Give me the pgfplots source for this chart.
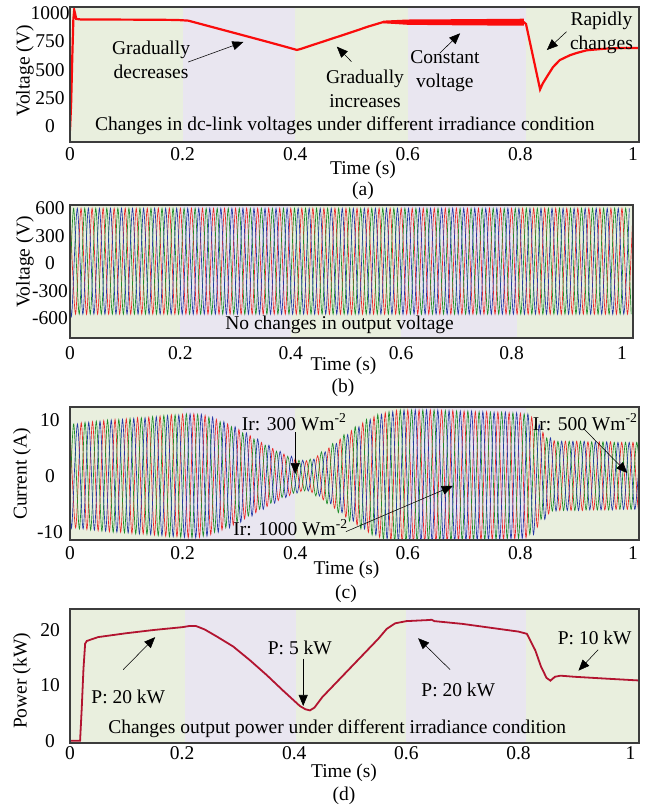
\documentclass[border=0pt]{standalone}
\usepackage{fontspec}
\setmainfont{Liberation Serif}
\usepackage{pgfplots}
\pgfplotsset{compat=1.18}
\usetikzlibrary{arrows.meta}
\definecolor{bggreen}{RGB}{233,239,222}
\definecolor{bgpurple}{RGB}{233,230,240}
\definecolor{vred}{RGB}{250,12,12}
\definecolor{pred}{RGB}{178,20,48}
\definecolor{wred}{RGB}{232,40,40}
\definecolor{wgreen}{RGB}{30,140,40}
\definecolor{wblue}{RGB}{35,55,165}
\definecolor{framec}{RGB}{60,60,60}
\newcommand\fs{\fontsize{19.5bp}{24bp}\selectfont}
\pgfplotsset{panel/.style={scale only axis, anchor=north west,
  axis line style={draw=framec,line width=1.1bp},
  major tick length=0pt, minor tick length=0pt, no markers,
  xmin=0, xtick={0,0.2,0.4,0.6,0.8,1}, xticklabels={0,0.2,0.4,0.6,0.8,1},
  ticklabel style={font=\fs},
  yticklabel style={anchor=center, xshift=-20bp},
  axis on top, /pgf/number format/assume math mode=true}}
\tikzset{arr/.style={draw=black, line width=0.55bp, -{Triangle[length=11bp,width=9bp]}},
  ann/.style={font=\fs, inner sep=0pt, align=center}}
\begin{document}
\begin{tikzpicture}
\useasboundingbox (0,0) rectangle (648bp,-806bp);
% ---------------- (a)
\begin{axis}[panel, at={(70bp,-7bp)}, width=569bp, height=135bp,
  xmax=1.0107, ymin=-142, ymax=1056,
  ytick={0,250,500,750,1000}, yticklabels={0,250,500,750,1000},
  xticklabel style={anchor=center, yshift=-12.5bp}]
\fill[bggreen] (axis cs:0,-142) rectangle (axis cs:0.2,1056);
\fill[bgpurple] (axis cs:0.2,-142) rectangle (axis cs:0.4,1056);
\fill[bggreen] (axis cs:0.4,-142) rectangle (axis cs:0.6,1056);
\fill[bgpurple] (axis cs:0.6,-142) rectangle (axis cs:0.81,1056);
\fill[bggreen] (axis cs:0.81,-142) rectangle (axis cs:1.03,1056);
\addplot[vred, fill=vred, draw=none] coordinates {(0.556,935)(0.6,945)(0.7,948)(0.806,952)(0.806,890)(0.7,893)(0.6,898)(0.556,912)} -- cycle;
\addplot[vred, line width=2.2bp] coordinates {(0,-40)(0.002,200)(0.004,600)(0.006,950)(0.0075,1030)(0.009,1000)(0.011,950)(0.02,945)(0.05,945)(0.1,944)(0.15,943)(0.19,941)(0.21,935)(0.3,815)(0.35,748)(0.38,707)(0.403,675)(0.41,684)(0.45,750)(0.5,832)(0.53,883)(0.556,922)(0.57,922)(0.6,922)(0.7,922)(0.806,922)(0.81,905)(0.835,325)(0.84,380)(0.85,460)(0.858,523)(0.87,585)(0.888,628)(0.9,648)(0.918,672)(0.95,686)(0.977,692)(1.02,693)};
\node[ann] at (axis cs:0.144,586) {Gradually\\decreases};
\node[ann] at (axis cs:0.524,333) {Gradually\\increases};
\node[ann] at (axis cs:0.666,484) {Constant\\voltage};
\node[ann] at (axis cs:0.944,830) {Rapidly\\changes};
\node[ann, anchor=west] at (axis cs:0.0444,0) {Changes in dc-link voltages under different irradiance condition};
\draw[arr] (axis cs:0.21,568) -- (axis cs:0.308,746);
\draw[arr] (axis cs:0.5,571) -- (axis cs:0.474,704);
\draw[arr] (axis cs:0.657,647) -- (axis cs:0.693,823);
\draw[arr] (axis cs:0.882,837) -- (axis cs:0.847,674);
\end{axis}
% ---------------- (b)
\begin{axis}[panel, at={(70bp,-205bp)}, width=563bp, height=133bp,
  xmax=1.02, ymin=-815, ymax=636,
  ytick={-600,-300,0,300,600}, yticklabels={-600,-300,0,300,600},
  xticklabel style={anchor=center, yshift=-15bp}]
\fill[bggreen] (axis cs:0,-815) rectangle (axis cs:0.2,636);
\fill[bgpurple] (axis cs:0.2,-815) rectangle (axis cs:0.4,636);
\fill[bggreen] (axis cs:0.4,-815) rectangle (axis cs:0.6,636);
\fill[bgpurple] (axis cs:0.6,-815) rectangle (axis cs:0.81,636);
\fill[bggreen] (axis cs:0.81,-815) rectangle (axis cs:1.03,636);
\addplot[wred, line width=0.65bp, smooth] coordinates {
(0,600)(0.01,-555)(0.02,600)(0.03,-555)(0.04,600)(0.05,-555)(0.06,600)(0.07,-555)(0.08,600)(0.09,-555)
(0.10,600)(0.11,-555)(0.12,600)(0.13,-555)(0.14,600)(0.15,-555)(0.16,600)(0.17,-555)(0.18,600)(0.19,-555)
(0.20,600)(0.21,-555)(0.22,600)(0.23,-555)(0.24,600)(0.25,-555)(0.26,600)(0.27,-555)(0.28,600)(0.29,-555)
(0.30,600)(0.31,-555)(0.32,600)(0.33,-555)(0.34,600)(0.35,-555)(0.36,600)(0.37,-555)(0.38,600)(0.39,-555)
(0.40,600)(0.41,-555)(0.42,600)(0.43,-555)(0.44,600)(0.45,-555)(0.46,600)(0.47,-555)(0.48,600)(0.49,-555)
(0.50,600)(0.51,-555)(0.52,600)(0.53,-555)(0.54,600)(0.55,-555)(0.56,600)(0.57,-555)(0.58,600)(0.59,-555)
(0.60,600)(0.61,-555)(0.62,600)(0.63,-555)(0.64,600)(0.65,-555)(0.66,600)(0.67,-555)(0.68,600)(0.69,-555)
(0.70,600)(0.71,-555)(0.72,600)(0.73,-555)(0.74,600)(0.75,-555)(0.76,600)(0.77,-555)(0.78,600)(0.79,-555)
(0.80,600)(0.81,-555)(0.82,600)(0.83,-555)(0.84,600)(0.85,-555)(0.86,600)(0.87,-555)(0.88,600)(0.89,-555)
(0.90,600)(0.91,-555)(0.92,600)(0.93,-555)(0.94,600)(0.95,-555)(0.96,600)(0.97,-555)(0.98,600)(0.99,-555)
(1.00,600)(1.01,-555)(1.02,600)};
\addplot[wgreen, line width=0.65bp, smooth] coordinates {(0,-280)
(0.0067,600)(0.0167,-555)(0.0267,600)(0.0367,-555)(0.0467,600)(0.0567,-555)(0.0667,600)(0.0767,-555)(0.0867,600)(0.0967,-555)
(0.1067,600)(0.1167,-555)(0.1267,600)(0.1367,-555)(0.1467,600)(0.1567,-555)(0.1667,600)(0.1767,-555)(0.1867,600)(0.1967,-555)
(0.2067,600)(0.2167,-555)(0.2267,600)(0.2367,-555)(0.2467,600)(0.2567,-555)(0.2667,600)(0.2767,-555)(0.2867,600)(0.2967,-555)
(0.3067,600)(0.3167,-555)(0.3267,600)(0.3367,-555)(0.3467,600)(0.3567,-555)(0.3667,600)(0.3767,-555)(0.3867,600)(0.3967,-555)
(0.4067,600)(0.4167,-555)(0.4267,600)(0.4367,-555)(0.4467,600)(0.4567,-555)(0.4667,600)(0.4767,-555)(0.4867,600)(0.4967,-555)
(0.5067,600)(0.5167,-555)(0.5267,600)(0.5367,-555)(0.5467,600)(0.5567,-555)(0.5667,600)(0.5767,-555)(0.5867,600)(0.5967,-555)
(0.6067,600)(0.6167,-555)(0.6267,600)(0.6367,-555)(0.6467,600)(0.6567,-555)(0.6667,600)(0.6767,-555)(0.6867,600)(0.6967,-555)
(0.7067,600)(0.7167,-555)(0.7267,600)(0.7367,-555)(0.7467,600)(0.7567,-555)(0.7667,600)(0.7767,-555)(0.7867,600)(0.7967,-555)
(0.8067,600)(0.8167,-555)(0.8267,600)(0.8367,-555)(0.8467,600)(0.8567,-555)(0.8667,600)(0.8767,-555)(0.8867,600)(0.8967,-555)
(0.9067,600)(0.9167,-555)(0.9267,600)(0.9367,-555)(0.9467,600)(0.9567,-555)(0.9667,600)(0.9767,-555)(0.9867,600)(0.9967,-555)
(1.0067,600)(1.0167,-555)};
\addplot[wblue, line width=0.65bp, smooth] coordinates {(0,-280)
(0.0033,-555)(0.0133,600)(0.0233,-555)(0.0333,600)(0.0433,-555)(0.0533,600)(0.0633,-555)(0.0733,600)(0.0833,-555)(0.0933,600)
(0.1033,-555)(0.1133,600)(0.1233,-555)(0.1333,600)(0.1433,-555)(0.1533,600)(0.1633,-555)(0.1733,600)(0.1833,-555)(0.1933,600)
(0.2033,-555)(0.2133,600)(0.2233,-555)(0.2333,600)(0.2433,-555)(0.2533,600)(0.2633,-555)(0.2733,600)(0.2833,-555)(0.2933,600)
(0.3033,-555)(0.3133,600)(0.3233,-555)(0.3333,600)(0.3433,-555)(0.3533,600)(0.3633,-555)(0.3733,600)(0.3833,-555)(0.3933,600)
(0.4033,-555)(0.4133,600)(0.4233,-555)(0.4333,600)(0.4433,-555)(0.4533,600)(0.4633,-555)(0.4733,600)(0.4833,-555)(0.4933,600)
(0.5033,-555)(0.5133,600)(0.5233,-555)(0.5333,600)(0.5433,-555)(0.5533,600)(0.5633,-555)(0.5733,600)(0.5833,-555)(0.5933,600)
(0.6033,-555)(0.6133,600)(0.6233,-555)(0.6333,600)(0.6433,-555)(0.6533,600)(0.6633,-555)(0.6733,600)(0.6833,-555)(0.6933,600)
(0.7033,-555)(0.7133,600)(0.7233,-555)(0.7333,600)(0.7433,-555)(0.7533,600)(0.7633,-555)(0.7733,600)(0.7833,-555)(0.7933,600)
(0.8033,-555)(0.8133,600)(0.8233,-555)(0.8333,600)(0.8433,-555)(0.8533,600)(0.8633,-555)(0.8733,600)(0.8833,-555)(0.8933,600)
(0.9033,-555)(0.9133,600)(0.9233,-555)(0.9333,600)(0.9433,-555)(0.9533,600)(0.9633,-555)(0.9733,600)(0.9833,-555)(0.9933,600)
(1.0033,-555)(1.0133,600)};
\node[ann, anchor=west] at (axis cs:0.281,-672) {No changes in output voltage};
\end{axis}
% ---------------- (c)
\begin{axis}[panel, at={(70bp,-407bp)}, width=569bp, height=133bp,
  xmax=1.0107, ymin=-11.49, ymax=12.33,
  ytick={-10,0,10}, yticklabels={-10,0,10},
  xticklabel style={anchor=center, yshift=-13bp}]
\fill[bggreen] (axis cs:0,-12) rectangle (axis cs:0.2,13);
\fill[bgpurple] (axis cs:0.2,-12) rectangle (axis cs:0.4,13);
\fill[bggreen] (axis cs:0.4,-12) rectangle (axis cs:0.6,13);
\fill[bgpurple] (axis cs:0.6,-12) rectangle (axis cs:0.81,13);
\fill[bggreen] (axis cs:0.81,-12) rectangle (axis cs:1.03,13);
\addplot[wred, line width=0.65bp, smooth] coordinates {
(0.00,9.0)(0.01,-9.3)(0.02,9.5)(0.03,-9.6)(0.04,9.7)(0.05,-9.8)(0.06,9.9)(0.07,-10.0)(0.08,10.1)(0.09,-10.1)
(0.10,10.2)(0.11,-10.3)(0.12,10.4)(0.13,-10.4)(0.14,10.5)(0.15,-10.6)(0.16,10.7)(0.17,-10.8)(0.18,10.9)(0.19,-10.9)
(0.20,11.0)(0.21,-11.1)(0.22,11.1)(0.23,-11.0)(0.24,10.8)(0.25,-10.5)(0.26,10.1)(0.27,-9.7)(0.28,9.3)(0.29,-8.8)
(0.30,8.3)(0.31,-7.7)(0.32,7.2)(0.33,-6.6)(0.34,6.0)(0.35,-5.5)(0.36,4.9)(0.37,-4.4)(0.38,3.9)(0.39,-3.5)
(0.40,3.1)(0.41,-2.8)(0.42,2.7)(0.43,-3.0)(0.44,3.6)(0.45,-4.3)(0.46,5.0)(0.47,-5.8)(0.48,6.6)(0.49,-7.4)
(0.50,8.1)(0.51,-8.8)(0.52,9.5)(0.53,-10.1)(0.54,10.6)(0.55,-11.0)(0.56,11.3)(0.57,-11.5)(0.58,11.7)(0.59,-11.8)
(0.60,11.8)(0.61,-11.8)(0.62,11.8)(0.63,-11.8)(0.64,11.8)(0.65,-11.8)(0.66,11.7)(0.67,-11.7)(0.68,11.7)(0.69,-11.6)
(0.70,11.6)(0.71,-11.6)(0.72,11.5)(0.73,-11.5)(0.74,11.5)(0.75,-11.4)(0.76,11.4)(0.77,-11.4)(0.78,11.3)(0.79,-11.3)
(0.80,11.2)(0.81,-11.1)(0.82,10.5)(0.83,-9.2)(0.84,7.8)(0.85,-6.8)(0.86,6.3)(0.87,-6.2)(0.88,6.2)(0.89,-6.2)
(0.90,6.2)(0.91,-6.2)(0.92,6.1)(0.93,-6.1)(0.94,6.1)(0.95,-6.1)(0.96,6.1)(0.97,-6.0)(0.98,6.0)(0.99,-6.0)
(1.00,6.0)(1.01,-6.0)(1.02,6.0)};
\addplot[wgreen, line width=0.65bp, smooth] coordinates {(0,-4.5)
(0.0067,9.3)(0.0167,-9.5)(0.0267,9.6)(0.0367,-9.7)(0.0467,9.8)(0.0567,-9.9)(0.0667,10.0)(0.0767,-10.1)(0.0867,10.1)(0.0967,-10.2)
(0.1067,10.3)(0.1167,-10.4)(0.1267,10.4)(0.1367,-10.5)(0.1467,10.6)(0.1567,-10.7)(0.1667,10.8)(0.1767,-10.9)(0.1867,10.9)(0.1967,-11.0)
(0.2067,11.1)(0.2167,-11.1)(0.2267,11.0)(0.2367,-10.8)(0.2467,10.5)(0.2567,-10.1)(0.2667,9.7)(0.2767,-9.3)(0.2867,8.8)(0.2967,-8.3)
(0.3067,7.7)(0.3167,-7.2)(0.3267,6.6)(0.3367,-6.0)(0.3467,5.5)(0.3567,-4.9)(0.3667,4.4)(0.3767,-3.9)(0.3867,3.5)(0.3967,-3.1)
(0.4067,2.8)(0.4167,-2.7)(0.4267,3.0)(0.4367,-3.6)(0.4467,4.3)(0.4567,-5.0)(0.4667,5.8)(0.4767,-6.6)(0.4867,7.4)(0.4967,-8.1)
(0.5067,8.8)(0.5167,-9.5)(0.5267,10.1)(0.5367,-10.6)(0.5467,11.0)(0.5567,-11.3)(0.5667,11.5)(0.5767,-11.7)(0.5867,11.8)(0.5967,-11.8)
(0.6067,11.8)(0.6167,-11.8)(0.6267,11.8)(0.6367,-11.8)(0.6467,11.8)(0.6567,-11.7)(0.6667,11.7)(0.6767,-11.7)(0.6867,11.6)(0.6967,-11.6)
(0.7067,11.6)(0.7167,-11.5)(0.7267,11.5)(0.7367,-11.5)(0.7467,11.4)(0.7567,-11.4)(0.7667,11.4)(0.7767,-11.3)(0.7867,11.3)(0.7967,-11.2)
(0.8067,11.1)(0.8167,-10.5)(0.8267,9.2)(0.8367,-7.8)(0.8467,6.8)(0.8567,-6.3)(0.8667,6.2)(0.8767,-6.2)(0.8867,6.2)(0.8967,-6.2)
(0.9067,6.2)(0.9167,-6.1)(0.9267,6.1)(0.9367,-6.1)(0.9467,6.1)(0.9567,-6.1)(0.9667,6.0)(0.9767,-6.0)(0.9867,6.0)(0.9967,-6.0)
(1.0067,6.0)(1.0167,-6.0)};
\addplot[wblue, line width=0.65bp, smooth] coordinates {(0,-4.5)
(0.0033,-9.0)(0.0133,9.3)(0.0233,-9.5)(0.0333,9.6)(0.0433,-9.7)(0.0533,9.8)(0.0633,-9.9)(0.0733,10.0)(0.0833,-10.1)(0.0933,10.1)
(0.1033,-10.2)(0.1133,10.3)(0.1233,-10.4)(0.1333,10.4)(0.1433,-10.5)(0.1533,10.6)(0.1633,-10.7)(0.1733,10.8)(0.1833,-10.9)(0.1933,10.9)
(0.2033,-11.0)(0.2133,11.1)(0.2233,-11.1)(0.2333,11.0)(0.2433,-10.8)(0.2533,10.5)(0.2633,-10.1)(0.2733,9.7)(0.2833,-9.3)(0.2933,8.8)
(0.3033,-8.3)(0.3133,7.7)(0.3233,-7.2)(0.3333,6.6)(0.3433,-6.0)(0.3533,5.5)(0.3633,-4.9)(0.3733,4.4)(0.3833,-3.9)(0.3933,3.5)
(0.4033,-3.1)(0.4133,2.8)(0.4233,-2.7)(0.4333,3.0)(0.4433,-3.6)(0.4533,4.3)(0.4633,-5.0)(0.4733,5.8)(0.4833,-6.6)(0.4933,7.4)
(0.5033,-8.1)(0.5133,8.8)(0.5233,-9.5)(0.5333,10.1)(0.5433,-10.6)(0.5533,11.0)(0.5633,-11.3)(0.5733,11.5)(0.5833,-11.7)(0.5933,11.8)
(0.6033,-11.8)(0.6133,11.8)(0.6233,-11.8)(0.6333,11.8)(0.6433,-11.8)(0.6533,11.8)(0.6633,-11.7)(0.6733,11.7)(0.6833,-11.7)(0.6933,11.6)
(0.7033,-11.6)(0.7133,11.6)(0.7233,-11.5)(0.7333,11.5)(0.7433,-11.5)(0.7533,11.4)(0.7633,-11.4)(0.7733,11.4)(0.7833,-11.3)(0.7933,11.3)
(0.8033,-11.2)(0.8133,11.1)(0.8233,-10.5)(0.8333,9.2)(0.8433,-7.8)(0.8533,6.8)(0.8633,-6.3)(0.8733,6.2)(0.8833,-6.2)(0.8933,6.2)
(0.9033,-6.2)(0.9133,6.2)(0.9233,-6.1)(0.9333,6.1)(0.9433,-6.1)(0.9533,6.1)(0.9633,-6.1)(0.9733,6.0)(0.9833,-6.0)(0.9933,6.0)
(1.0033,-6.0)(1.0133,6.0)};
\node[ann, anchor=west] at (axis cs:0.305,9.6) {Ir: 300 Wm\textsuperscript{-2}};
\node[ann, anchor=west] at (axis cs:0.29,-9.3) {Ir: 1000 Wm\textsuperscript{-2}};
\node[ann, anchor=west] at (axis cs:0.822,9.6) {Ir: 500 Wm\textsuperscript{-2}};
\draw[arr] (axis cs:0.4,7.8) -- (axis cs:0.4,0.3);
\draw[arr] (axis cs:0.49,-10.0) -- (axis cs:0.68,-1.8);
\draw[arr] (axis cs:0.912,8.5) -- (axis cs:0.99,0.5);
\end{axis}
% ---------------- (d)
\begin{axis}[panel, at={(70bp,-609bp)}, width=569bp, height=134bp,
  xmax=1.015, ymin=-0.42, ymax=23.9,
  ytick={0,10,20}, yticklabels={0,10,20},
  xticklabel style={anchor=center, yshift=-10.5bp}]
\fill[bggreen] (axis cs:0,-1) rectangle (axis cs:0.205,25);
\fill[bgpurple] (axis cs:0.205,-1) rectangle (axis cs:0.403,25);
\fill[bggreen] (axis cs:0.403,-1) rectangle (axis cs:0.6,25);
\fill[bgpurple] (axis cs:0.6,-1) rectangle (axis cs:0.813,25);
\fill[bggreen] (axis cs:0.813,-1) rectangle (axis cs:1.03,25);
\addplot[pred, line width=1.8bp] coordinates {(0,0)(0.018,0)(0.021,6)(0.024,13)(0.027,17.6)(0.03,18.1)(0.05,18.8)(0.1,19.5)(0.15,20.1)(0.2,20.6)(0.212,20.8)(0.225,20.8)(0.24,20.2)(0.262,18.9)(0.291,17.1)(0.321,14.6)(0.351,11.9)(0.38,9.1)(0.41,6.3)(0.42,5.7)(0.428,5.5)(0.436,6.0)(0.45,7.9)(0.5,13.2)(0.55,18.5)(0.565,20.3)(0.58,21.3)(0.6,21.7)(0.64,21.9)(0.645,21.95)(0.65,21.7)(0.7,21.2)(0.75,20.5)(0.8,19.8)(0.815,19.4)(0.83,16.4)(0.84,13.5)(0.85,11.4)(0.857,10.9)(0.865,11.6)(0.875,11.8)(0.9,11.6)(0.95,11.3)(1.02,10.9)};
\node[ann] at (axis cs:0.104,8.0) {P: 20 kW};
\node[ann] at (axis cs:0.41,16.8) {P: 5 kW};
\node[ann] at (axis cs:0.6926,9.2) {P: 20 kW};
\node[ann] at (axis cs:0.936,18.6) {P: 10 kW};
\node[ann, anchor=west] at (axis cs:0.068,2.25) {Changes output power under different irradiance condition};
\draw[arr] (axis cs:0.095,12.9) -- (axis cs:0.152,18.8);
\draw[arr] (axis cs:0.416,14.9) -- (axis cs:0.416,6.3);
\draw[arr] (axis cs:0.678,12.9) -- (axis cs:0.621,18.6);
\draw[arr] (axis cs:0.942,16.5) -- (axis cs:0.907,12.7);
\end{axis}
% ---------------- labels
\node[font=\fs, rotate=90] at (25bp,-71bp) {Voltage (V)};
\node[font=\fs, rotate=90] at (25bp,-262bp) {Voltage (V)};
\node[font=\fs, rotate=90] at (22bp,-474bp) {Current (A)};
\node[font=\fs, rotate=90] at (22bp,-681bp) {Power (kW)};
\node[font=\fs] at (363bp,-170bp) {Time (s)};
\node[font=\fs] at (363bp,-191bp) {(a)};
\node[font=\fs] at (343.5bp,-366bp) {Time (s)};
\node[font=\fs] at (343bp,-388bp) {(b)};
\node[font=\fs] at (346.5bp,-570bp) {Time (s)};
\node[font=\fs] at (346bp,-594bp) {(c)};
\node[font=\fs] at (344bp,-773bp) {Time (s)};
\node[font=\fs] at (344bp,-796bp) {(d)};
\end{tikzpicture}
\end{document}
